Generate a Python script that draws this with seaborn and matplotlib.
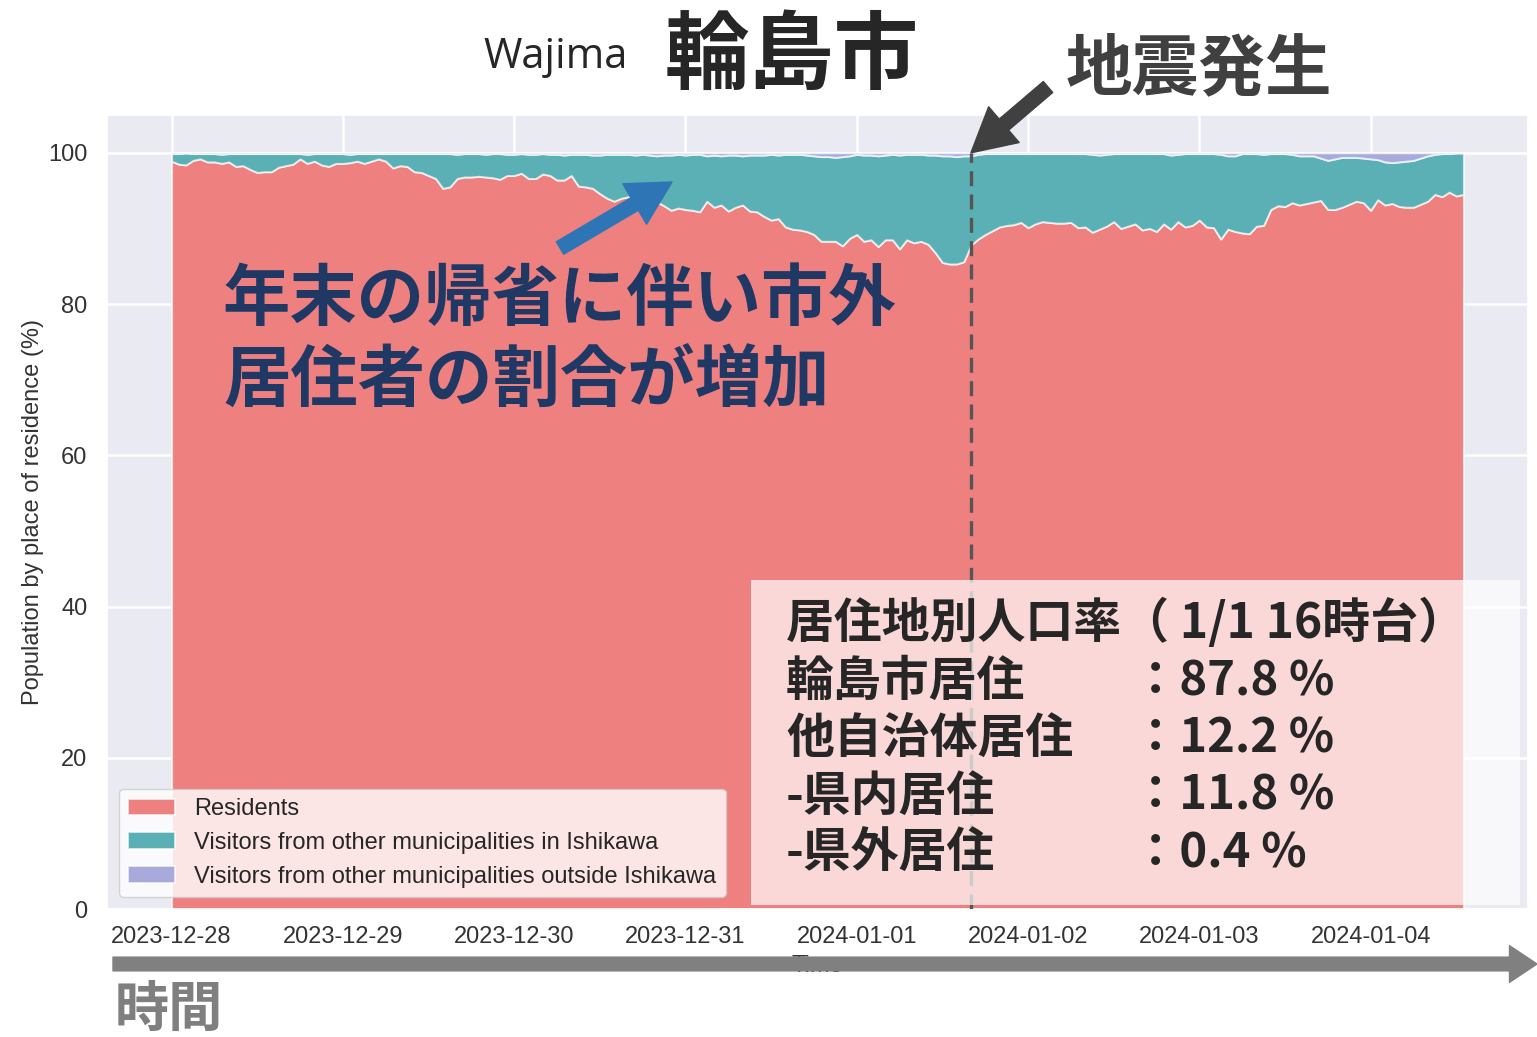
import matplotlib
matplotlib.use("Agg")
import matplotlib.dates as mdates
import matplotlib.pyplot as plt
import numpy as np
import pandas as pd
import seaborn as sns
from matplotlib.patches import FancyArrowPatch, Rectangle

sns.set_theme(style="darkgrid")
plt.rcParams["font.family"] = ["Liberation Sans", "Noto Sans CJK JP", "DejaVu Sans"]

W, H = 1537, 1037

# hourly shares (%) from 2023-12-28 00:00
start = "2023-12-28 00:00"
quake_time = "2024-01-01 16:00"

residents = [
    98.9, 98.5, 98.4, 99.0, 99.2, 98.8, 98.8, 98.6, 98.8, 98.2, 98.3, 97.8,
    97.4, 97.5, 97.5, 98.1, 98.3, 98.5, 99.2, 98.6, 98.9, 98.4, 98.2, 98.6,
    98.6, 98.7, 98.9, 98.6, 98.9, 99.2, 98.9, 98.0, 98.3, 98.2, 97.5, 97.4,
    97.0, 96.6, 95.3, 95.5, 96.6, 96.8, 96.8, 96.9, 96.8, 96.7, 96.5, 97.0,
    97.0, 97.3, 96.6, 96.6, 97.2, 97.0, 96.4, 96.4, 97.0, 95.6, 95.5, 95.3,
    94.6, 94.0, 93.6, 94.0, 94.2, 93.9, 93.6, 93.2, 93.5, 93.0, 92.4, 92.7,
    92.5, 92.4, 92.2, 93.6, 92.8, 93.1, 92.3, 92.8, 93.1, 92.3, 92.2, 91.6,
    91.1, 91.3, 90.2, 89.9, 89.8, 89.6, 89.2, 88.3, 88.3, 88.3, 87.7, 88.7,
    89.2, 88.3, 88.5, 87.6, 88.5, 88.5, 87.3, 88.5, 88.1, 88.3, 87.9, 86.8,
    85.5, 85.3, 85.3, 85.6, 87.8, 88.6, 89.2, 89.7, 90.2, 90.4, 90.5, 90.8,
    90.1, 90.6, 90.9, 90.8, 90.7, 90.7, 90.8, 90.1, 90.2, 89.5, 89.9, 90.3,
    90.9, 90.0, 90.3, 90.6, 89.8, 90.0, 89.6, 90.6, 89.9, 90.9, 90.2, 90.4,
    91.1, 90.2, 90.1, 88.6, 89.9, 89.6, 89.4, 89.3, 90.3, 90.4, 92.5, 93.0,
    92.9, 93.4, 93.1, 93.3, 93.5, 93.7, 92.5, 92.5, 92.8, 93.2, 93.6, 93.4,
    92.4, 93.8, 93.1, 93.3, 92.9, 92.8, 92.8, 93.2, 93.6, 94.5, 94.2, 94.8,
    94.3, 94.5,
]

outside_ishikawa = [
    0.1, 0.1, 0.0, 0.1, 0.1, 0.1, 0.1, 0.2, 0.1, 0.1, 0.1, 0.1,
    0.1, 0.1, 0.1, 0.1, 0.1, 0.1, 0.1, 0.2, 0.1, 0.1, 0.1, 0.1,
    0.1, 0.2, 0.1, 0.1, 0.1, 0.1, 0.1, 0.1, 0.1, 0.1, 0.1, 0.1,
    0.1, 0.1, 0.1, 0.1, 0.2, 0.1, 0.1, 0.1, 0.2, 0.1, 0.1, 0.2,
    0.2, 0.1, 0.2, 0.2, 0.1, 0.2, 0.2, 0.3, 0.2, 0.2, 0.2, 0.3,
    0.3, 0.2, 0.2, 0.2, 0.2, 0.3, 0.2, 0.3, 0.4, 0.3, 0.3, 0.2,
    0.3, 0.2, 0.2, 0.4, 0.3, 0.4, 0.3, 0.3, 0.4, 0.3, 0.3, 0.3,
    0.2, 0.3, 0.2, 0.2, 0.2, 0.3, 0.4, 0.5, 0.5, 0.6, 0.5, 0.4,
    0.2, 0.3, 0.3, 0.4, 0.3, 0.2, 0.3, 0.2, 0.2, 0.2, 0.3, 0.3,
    0.4, 0.4, 0.5, 0.4, 0.4, 0.2, 0.1, 0.1, 0.1, 0.1, 0.1, 0.1,
    0.1, 0.1, 0.1, 0.1, 0.1, 0.1, 0.1, 0.1, 0.1, 0.2, 0.3, 0.2,
    0.1, 0.1, 0.1, 0.1, 0.1, 0.1, 0.1, 0.1, 0.3, 0.2, 0.1, 0.1,
    0.1, 0.1, 0.1, 0.2, 0.4, 0.4, 0.1, 0.1, 0.1, 0.2, 0.1, 0.1,
    0.1, 0.2, 0.4, 0.4, 0.4, 0.7, 1.0, 0.8, 0.6, 0.6, 0.6, 0.7,
    0.8, 0.9, 1.2, 1.3, 1.2, 1.1, 1.0, 0.7, 0.4, 0.2, 0.1, 0.1,
    0.0, 0.0,
]

series_labels = [
    "Residents",
    "Visitors from other municipalities in Ishikawa",
    "Visitors from other municipalities outside Ishikawa",
]
series_colors = ["#EF8080", "#5AB0B4", "#A7AADA"]

box_labels = ["輪島市居住", "他自治体居住", "-県内居住", "-県外居住"]


def fig_xy(px, py):
    return px / W, 1 - py / H


times = pd.date_range(start, periods=len(residents), freq="h")
quake = pd.Timestamp(quake_time)
res = np.array(residents)
out = np.array(outside_ishikawa)
pref = 100 - res - out

fig = plt.figure(figsize=(W / 100, H / 100), dpi=100)
ax = fig.add_axes([107 / W, 1 - 909 / H, (1528 - 107) / W, (909 - 115) / H])

ax.stackplot(times, res, pref, out, labels=series_labels, colors=series_colors,
             edgecolor=(1, 1, 1, 0.7), linewidth=1.4)
ax.axvline(quake, ymin=0, ymax=100 / 105, color="#555555", lw=2.4,
           linestyle=(0, (4.5, 2.5)), zorder=3)

ax.set_ylim(0, 105)
ax.set_yticks(range(0, 101, 20))
ax.xaxis.set_major_locator(mdates.DayLocator())
ax.xaxis.set_major_formatter(mdates.DateFormatter("%Y-%m-%d"))
ax.tick_params(axis="both", labelsize=17, colors="#333333")
ax.tick_params(axis="x", pad=6)
ax.tick_params(axis="y", pad=8)
ax.grid(color="white", linewidth=1.8)
ax.set_xlabel("Time", fontsize=17, color="#333333", labelpad=5)
ax.set_ylabel("Population by place of residence (%)", fontsize=17, color="#333333", labelpad=3)

leg = ax.legend(loc="lower left", fontsize=17, frameon=True, facecolor="white",
                framealpha=0.8, edgecolor="#cccccc")

# title
fig.text(*fig_xy(483, 57), "Wajima", fontsize=30, family="Open Sans", va="center", ha="left")
fig.text(*fig_xy(665, 57), "輪島市", fontsize=61, fontweight="bold", family="Noto Sans CJK JP",
         va="center", ha="left")

# earthquake marker
fig.text(*fig_xy(1066, 70), "地震発生", fontsize=48, fontweight="bold", family="Noto Sans CJK JP",
         color="#404040", va="center", ha="left")
ax.annotate("", xy=(quake, 100), xycoords="data",
            xytext=(1048, H - 87), textcoords="figure pixels",
            arrowprops=dict(arrowstyle="simple,head_length=1.2,head_width=1.3,tail_width=0.4",
                            color="#404040", mutation_scale=26, shrinkA=0, shrinkB=0))

# holiday comment
fig.text(*fig_xy(223, 300), "年末の帰省に伴い市外", fontsize=48.5, fontweight="bold",
         family="Noto Sans CJK JP", color="#203864", va="center", ha="left")
fig.text(*fig_xy(223, 382), "居住者の割合が増加", fontsize=48.5, fontweight="bold",
         family="Noto Sans CJK JP", color="#203864", va="center", ha="left")
fig.add_artist(FancyArrowPatch(fig_xy(560, 248), fig_xy(672, 182), transform=fig.transFigure,
                               arrowstyle="simple,head_length=1.2,head_width=1.3,tail_width=0.4",
                               color="#2E75B6", mutation_scale=26, shrinkA=0, shrinkB=0))

# info box
fig.add_artist(Rectangle(fig_xy(751, 905), (1520 - 751) / W, (905 - 580) / H,
                         transform=fig.transFigure, facecolor="white", alpha=0.7,
                         edgecolor="none"))
i = times.get_loc(quake)
box_values = [res[i], 100 - res[i], pref[i], out[i]]
fig.text(*fig_xy(786, 623), "居住地別人口率（ 1/1 16時台）", fontsize=34.5, fontweight="bold",
         family="Noto Sans CJK JP", va="center", ha="left")
for k, (lab, val) in enumerate(zip(box_labels, box_values)):
    y = 681 + 57.5 * k
    fig.text(*fig_xy(786, y), lab, fontsize=34.5, fontweight="bold",
             family="Noto Sans CJK JP", va="center", ha="left")
    fig.text(*fig_xy(1132, y), f"：{val:.1f} %", fontsize=34, fontweight="bold",
             family="Noto Sans CJK JP", va="center", ha="left")

# time arrow
fig.add_artist(FancyArrowPatch(fig_xy(113, 964), fig_xy(1537, 964), transform=fig.transFigure,
                               arrowstyle="simple,head_length=0.9,head_width=1.2,tail_width=0.45",
                               color="#808080", mutation_scale=22, shrinkA=0, shrinkB=0))
fig.text(*fig_xy(115, 1010), "時間", fontsize=39, fontweight="bold",
         family="Noto Sans CJK JP", color="#7F7F7F", va="center", ha="left")

fig.savefig("out.png", dpi=100)
